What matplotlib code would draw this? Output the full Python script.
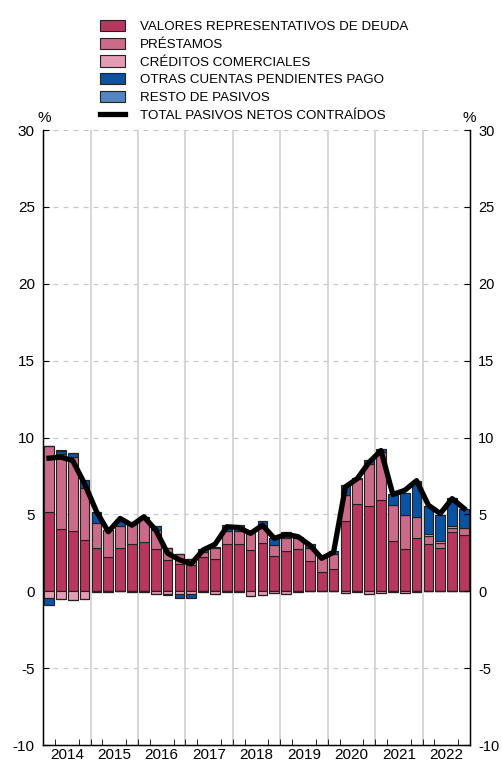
import matplotlib
matplotlib.use("Agg")
import matplotlib.pyplot as plt
import numpy as np

plt.rcParams['font.family'] = ['Liberation Sans', 'DejaVu Sans']
plt.rcParams['axes.unicode_minus'] = False

# quarterly data 2014Q1 - 2022Q4
years = ['2014', '2015', '2016', '2017', '2018', '2019', '2020', '2021', '2022']

valores = [5.17, 4.05, 3.92, 3.34, 2.80, 2.26, 2.84, 3.08, 3.23, 2.76, 2.05, 1.79,
           1.72, 2.22, 2.09, 3.08, 3.08, 2.69, 3.17, 2.31, 2.65, 2.74, 1.98, 1.23,
           1.47, 4.59, 5.71, 5.54, 5.93, 3.30, 2.74, 3.49, 3.06, 2.80, 3.84, 3.66]
prestamos = [4.31, 4.89, 4.81, 3.38, 1.62, 1.73, 1.43, 1.27, 1.62, 1.23, 0.75, 0.62,
             0.37, 0.32, 0.75, 0.86, 0.86, 1.23, 0.97, 0.71, 0.84, 0.71, 0.82, 1.03,
             0.94, 1.66, 1.57, 2.76, 3.12, 2.30, 2.22, 1.36, 0.57, 0.37, 0.30, 0.47]
creditos = [-0.43, -0.47, -0.58, -0.47, -0.05, -0.03, 0.0, -0.05, -0.05, -0.20, -0.20, -0.20,
            -0.15, -0.05, -0.17, -0.05, -0.05, -0.28, -0.26, -0.10, -0.20, -0.05, 0.0, 0.0,
            0.0, -0.10, -0.05, -0.15, -0.12, -0.05, -0.10, -0.05, 0.10, 0.10, 0.13, 0.0]
otras = [-0.47, 0.20, 0.25, 0.50, 0.75, 0.0, 0.36, 0.0, 0.0, 0.28, -0.05, -0.26,
         -0.26, 0.20, 0.05, 0.40, 0.37, 0.0, 0.43, 0.47, 0.35, 0.10, 0.30, 0.0,
         0.20, 0.69, 0.10, 0.25, 0.20, 0.71, 1.44, 2.30, 1.81, 1.72, 1.81, 1.21]
resto = [0.0, 0.05, 0.0, 0.0, 0.0, 0.0, 0.0, 0.0, 0.0, 0.0, 0.0, 0.0,
         0.0, 0.0, 0.0, 0.0, 0.0, 0.0, 0.0, 0.0, 0.0, 0.0, 0.0, 0.0,
         0.0, 0.0, 0.0, 0.0, 0.0, 0.0, 0.0, 0.0, 0.0, 0.0, 0.0, 0.0]
total = [8.66, 8.73, 8.50, 7.00, 5.20, 3.88, 4.74, 4.30, 4.85, 4.00, 2.48, 2.05,
         1.79, 2.69, 3.06, 4.20, 4.15, 3.77, 4.30, 3.45, 3.70, 3.56, 3.00, 2.15,
         2.54, 6.80, 7.33, 8.40, 9.16, 6.30, 6.57, 7.20, 5.60, 5.06, 6.03, 5.39]

series = [valores, prestamos, creditos, otras, resto]
labels = ['VALORES REPRESENTATIVOS DE DEUDA', 'PRÉSTAMOS', 'CRÉDITOS COMERCIALES',
          'OTRAS CUENTAS PENDIENTES PAGO', 'RESTO DE PASIVOS']
colors = ['#B8375F', '#CC6A8A', '#E29CB4', '#0A52A3', '#5585BE']

fig = plt.figure(figsize=(5.01, 7.65), dpi=100)
ax = fig.add_axes([0.086, 0.026, 0.852, 0.804])

x = np.arange(len(valores))
pos_base = np.zeros(len(x))
neg_base = np.zeros(len(x))
handles = []
for vals, lab, col in zip(series, labels, colors):
    v = np.array(vals)
    pos = np.where(v > 0, v, 0)
    neg = np.where(v < 0, v, 0)
    h = ax.bar(x, pos, 0.82, bottom=pos_base, color=col, edgecolor='#222222',
               linewidth=0.8, label=lab, zorder=3)
    ax.bar(x, neg, 0.82, bottom=neg_base, color=col, edgecolor='#222222',
           linewidth=0.8, zorder=3)
    pos_base += pos
    neg_base += neg
    handles.append(h)

line, = ax.plot(x, total, color='black', linewidth=3.8, zorder=4,
                solid_joinstyle='round', label='TOTAL PASIVOS NETOS CONTRAÍDOS')
handles.append(line)

ax.set_xlim(-0.5, len(x) - 0.5)
ax.set_ylim(-10, 30)

# grid
for yv in range(-5, 31, 5):
    if yv != 0:
        ax.axhline(yv, color='#c8c8c8', linestyle=(0, (4, 4)), linewidth=0.9, zorder=1)
for k in range(1, len(years)):
    ax.axvline(4 * k - 0.5, color='#d0d0d0', linewidth=1.2, zorder=1)

# axes look
ax.spines['top'].set_visible(False)
for s in ['left', 'right', 'bottom']:
    ax.spines[s].set_linewidth(1.0)

ax.set_yticks(range(-10, 31, 5))
ax.tick_params(axis='y', direction='in', length=4, labelsize=11, left=True, right=False,
               labelleft=True, labelright=False, pad=6)

# right-hand labels
ax2 = ax.twinx()
ax2.set_ylim(-10, 30)
ax2.set_yticks(range(-10, 31, 5))
ax2.spines['top'].set_visible(False)
ax2.tick_params(axis='y', direction='in', length=4, labelsize=10.5, pad=6)

ax.set_xticks([4 * k + 1.5 for k in range(len(years))])
ax.set_xticklabels(years)
ax.set_xticks(np.arange(-0.5, len(x), 1), minor=True)
ax.tick_params(axis='x', which='major', length=0, labelsize=11, pad=2)
ax.tick_params(axis='x', which='minor', direction='in', length=4)

ax.text(-0.4, 30.3, '%', fontsize=11, ha='center', va='bottom')
ax.text(len(x) - 0.6, 30.3, '%', fontsize=11, ha='center', va='bottom')

fig.legend(handles=handles, loc='upper left', bbox_to_anchor=(0.188, 0.981),
           frameon=False, fontsize=9.6, handlelength=1.9, handleheight=0.9,
           labelspacing=0.35, handletextpad=1.1, borderaxespad=0)

fig.savefig('out.png', dpi=100)
